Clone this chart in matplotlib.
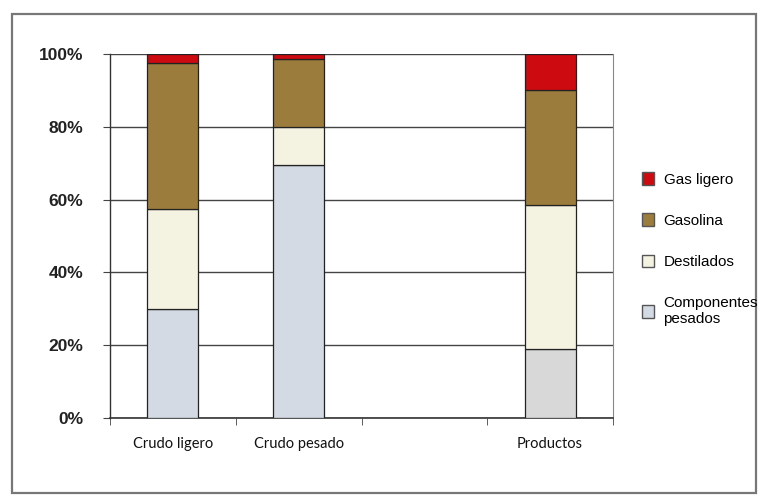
import matplotlib
matplotlib.use("Agg")
import matplotlib.pyplot as plt
from matplotlib.patches import Rectangle, Patch
import numpy as np

categories = ["Crudo ligero", "Crudo pesado", "", "Productos"]
componentes_pesados = [30.0, 69.5, 0.0, 19.0]
destilados = [27.5, 10.5, 0.0, 39.5]
gasolina = [40.0, 18.5, 0.0, 31.5]
gas_ligero = [2.5, 1.5, 0.0, 10.0]
y_ticks = [0, 20, 40, 60, 80, 100]
y_tick_labels = ["0%", "20%", "40%", "60%", "80%", "100%"]
series_names = ["Componentes\npesados", "Destilados", "Gasolina", "Gas ligero"]

col_comp = ["#d3dae3", "#d3dae3", "#d3dae3", "#d8d8d8"]
col_dest = "#f4f2e1"
col_gaso = "#9c7c3c"
col_gas = "#cc0a10"

fig = plt.figure(figsize=(7.63, 4.97), dpi=100)
ax = fig.add_axes([110/763, 1-418/497, (613-110)/763, (418-54)/497])

x = np.arange(len(categories))
w = 0.405
series = [componentes_pesados, destilados, gasolina, gas_ligero]
colors = [col_comp, col_dest, col_gaso, col_gas]
bottom = np.zeros(len(categories))
for vals, c in zip(series, colors):
    v = np.array(vals)
    cc = c if isinstance(c, list) else [c] * len(v)
    m = v > 0
    ax.bar(x[m], v[m], w, bottom=bottom[m], color=[cc[i] for i in range(len(v)) if m[i]],
           edgecolor="#222222", linewidth=0.9, zorder=3)
    bottom += v

ax.set_xlim(-0.5, 3.5)
ax.set_ylim(0, 100)
ax.set_yticks(y_ticks)
ax.set_yticklabels(y_tick_labels, fontfamily="Liberation Sans", fontweight="bold", fontsize=12.5, color="#222222")
ax.yaxis.grid(True, color="#444444", linewidth=1.0, zorder=0)
ax.tick_params(axis="y", direction="out", length=5, color="#444444", pad=14)

ax.set_xticks(x)
ax.set_xticklabels(categories, fontfamily="Lato", fontsize=10.5, color="#111111")
ax.set_xticks(np.arange(-0.5, 4.0, 1.0), minor=True)
ax.tick_params(axis="x", which="major", length=0, pad=14)
ax.tick_params(axis="x", which="minor", direction="out", length=5, color="#444444")

ax.spines["top"].set_visible(False)
ax.spines["left"].set_color("#333333")
ax.spines["bottom"].set_color("#333333")
ax.spines["right"].set_color("#888888")
ax.spines["left"].set_linewidth(1.0)
ax.spines["bottom"].set_linewidth(1.2)

handles = [Patch(facecolor=col_gas, edgecolor="#555555"),
           Patch(facecolor=col_gaso, edgecolor="#555555"),
           Patch(facecolor=col_dest, edgecolor="#555555"),
           Patch(facecolor=col_comp[0], edgecolor="#555555")]
labels = [series_names[3], series_names[2], series_names[1], series_names[0]]
leg = fig.legend(handles, labels, loc="upper left", bbox_to_anchor=(636/763, 1-166/497),
                 frameon=False, prop={"family": "Liberation Sans", "size": 11},
                 handlelength=0.8, handleheight=0.9, handletextpad=0.6, labelspacing=1.75,
                 borderaxespad=0)

fig.patches.append(Rectangle((12/763, 4/497), (756-12)/763, (483-4)/497,
                             transform=fig.transFigure, fill=False,
                             edgecolor="#777777", linewidth=1.6))

fig.savefig("out.png", dpi=100)
